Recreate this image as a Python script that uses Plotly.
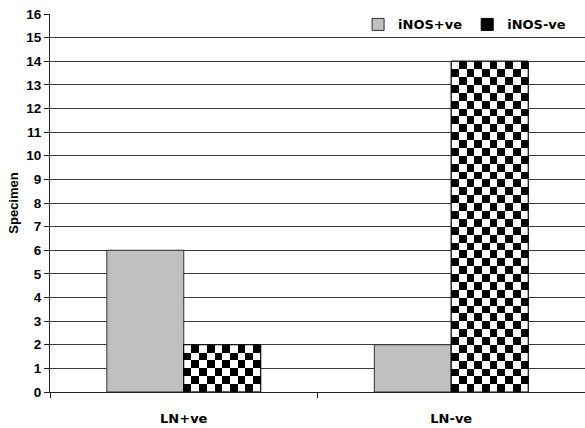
import plotly.graph_objects as go

# Data
categories = ["LN+ve", "LN-ve"]
inos_pos = [6, 2]
inos_neg = [2, 14]
y_ticks = list(range(0, 17))

# Styling constants
BAR_W = 0.2875          # width of each bar in category units
CHECK_COLS = 10         # checker squares across one bar
CHECK_PER_UNIT = 3      # checker squares per unit of value
WIDE = "DejaVu Sans"
NARROW = "Liberation Sans, Arial, sans-serif"
TICK_FONT = dict(family=NARROW, size=13.5, color="black", weight=700)
CAT_FONT = dict(family=WIDE, size=13, color="black", weight=700)
TITLE_FONT = dict(family=NARROW, size=13, color="black", weight=700)
GRID = "#3a3a3a"
AXIS = "#202020"

xs = list(range(len(categories)))

fig = go.Figure()

# Solid grey bars (left of each category)
fig.add_trace(go.Bar(
    name="iNOS+ve", x=xs, y=inos_pos, width=BAR_W, offset=-BAR_W,
    marker=dict(color="#C0C0C0", line=dict(color="#303030", width=1)),
    hoverinfo="x+y",
))
# Checkered bars (right of each category) – legend entry
fig.add_trace(go.Bar(
    name="iNOS-ve", x=xs, y=inos_neg, width=BAR_W, offset=0,
    marker=dict(color="black", line=dict(color="black", width=1)),
    hoverinfo="x+y",
))

# Checkerboard fill drawn over the iNOS-ve bars on an overlay subplot
dx = BAR_W / CHECK_COLS
dy = 1.0 / CHECK_PER_UNIT
for xi, v in zip(xs, inos_neg):
    rows = int(round(v * CHECK_PER_UNIT))
    z = [[(r + c + 1) % 2 for c in range(CHECK_COLS)] for r in range(rows)]
    fig.add_trace(go.Heatmap(
        z=z, x0=xi + dx / 2, dx=dx, y0=dy / 2, dy=dy,
        colorscale=[[0, "white"], [1, "black"]], zmin=0, zmax=1,
        showscale=False, hoverinfo="skip", xaxis="x2", yaxis="y2",
    ))
fig.add_trace(go.Bar(
    x=xs, y=inos_neg, width=BAR_W, offset=0, showlegend=False,
    marker=dict(color="rgba(0,0,0,0)", line=dict(color="black", width=1)),
    hoverinfo="skip", xaxis="x2", yaxis="y2",
))

fig.update_layout(
    width=585, height=428,
    margin=dict(l=50, r=0, t=14, b=36),
    paper_bgcolor="white", plot_bgcolor="white",
    barmode="overlay",
    font=TICK_FONT,
    showlegend=True,
    legend=dict(
        orientation="h", x=0.974, xanchor="right", y=1.012, yanchor="top",
        font=CAT_FONT, bgcolor="rgba(255,255,255,0)", itemwidth=30,
        traceorder="normal",
    ),
    xaxis=dict(
        range=[-0.5, len(categories) - 0.5], tickmode="array", tickvals=xs, ticktext=categories,
        showgrid=False, zeroline=False, showline=True, linecolor=AXIS, linewidth=1,
        ticks="outside", ticklen=14, tickcolor="rgba(0,0,0,0)",
        minor=dict(tickmode="array", tickvals=[i - 0.5 for i in range(len(categories) + 1)],
                   ticks="outside", ticklen=5, tickcolor=AXIS, showgrid=False),
        tickfont=CAT_FONT, fixedrange=True,
    ),
    yaxis=dict(
        range=[0, 16], tickmode="array", tickvals=y_ticks,
        showgrid=True, gridcolor=GRID, gridwidth=1, zeroline=False,
        showline=True, linecolor=AXIS, linewidth=1,
        ticks="outside", ticklen=5, tickcolor=AXIS,
        tickfont=TICK_FONT, title=dict(text="Specimen", font=TITLE_FONT, standoff=4), fixedrange=True,
    ),
    xaxis2=dict(overlaying="x", range=[-0.5, len(categories) - 0.5], visible=False, fixedrange=True),
    yaxis2=dict(overlaying="y", range=[0, 16], visible=False, fixedrange=True),
)

fig.write_html("out.html")
